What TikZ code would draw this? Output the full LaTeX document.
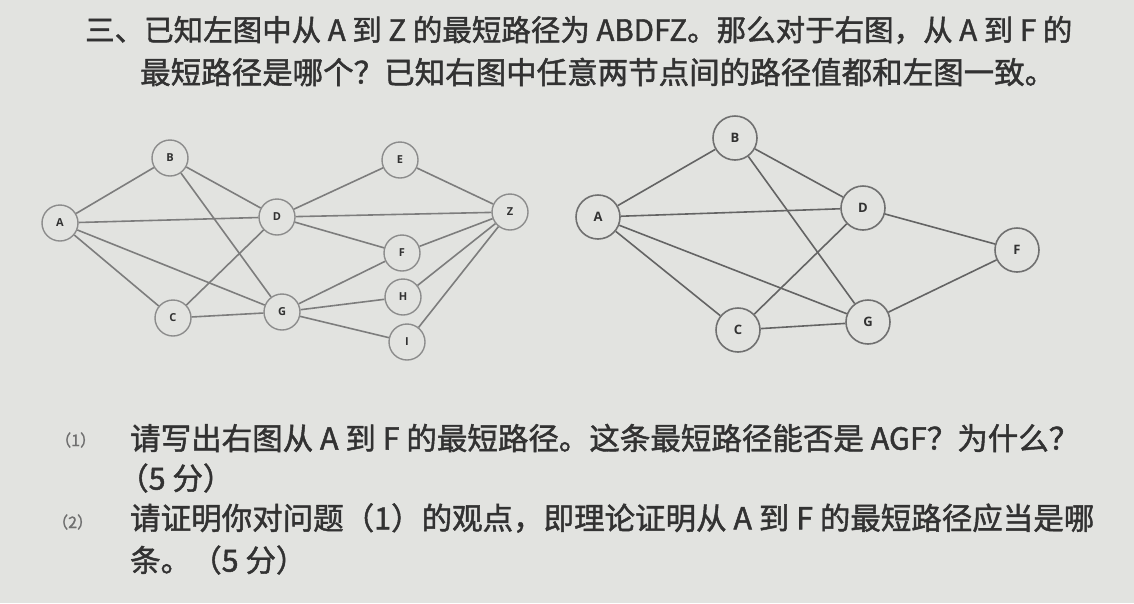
\documentclass[tikz,border=0pt]{standalone}
\usepackage{fontspec}
\setmainfont{Noto Sans CJK SC}[FakeBold=1.5,AutoFakeBold=1.5]
\newfontfamily\latinsans{Open Sans}
\definecolor{paper}{RGB}{226,227,224}
\definecolor{ink}{RGB}{50,50,50}
\definecolor{edgecol}{RGB}{125,125,125}
\definecolor{circcol}{RGB}{140,140,140}
\begin{document}
\begin{tikzpicture}[x=1pt,y=-1pt,
  vsmall/.style={circle,draw=circcol,line width=1.4pt,minimum size=36pt,inner sep=0pt,font=\latinsans\bfseries\fontsize{11}{11}\selectfont,text=ink},
  vbig/.style={circle,draw=circcol!80!black,line width=1.6pt,minimum size=44pt,inner sep=0pt,font=\latinsans\bfseries\fontsize{13}{13}\selectfont,text=ink},
  edge/.style={draw=edgecol,line width=1.6pt},
  para/.style={anchor=west,inner sep=0pt,text=ink,font=\bfseries\fontsize{30.5}{34}\selectfont}]
\fill[paper] (0,0) rectangle (1134,603);
\useasboundingbox (0,0) rectangle (1134,603);
% text
\node[para,font=\bfseries\fontsize{29.5}{34}\selectfont] (t1) at (85,30) {三、已知左图中从 A 到 Z 的最短路径为 ABDFZ。那么对于右图，从 A 到 F 的};
\node[para] (t2) at (140,72) {最短路径是哪个？已知右图中任意两节点间的路径值都和左图一致。};
\node[para,font=\fontsize{16}{20}\selectfont,text=ink!70] (q1n) at (55,440) {（1）};
\node[para] (q1) at (130,438) {请写出右图从 A 到 F 的最短路径。这条最短路径能否是 AGF？为什么？};
\node[para] (q1b) at (118,478) {（5 分）};
\node[para,font=\fontsize{16}{20}\selectfont,text=ink!70] (q2n) at (52,522) {（2）};
\node[para] (q2) at (130,518) {请证明你对问题（1）的观点，即理论证明从 A 到 F 的最短路径应当是哪};
\node[para] (q2b) at (130,560) {条。（5 分）};
% left graph
\node[vsmall] (A) at (60,223) {A};
\node[vsmall] (B) at (170,158) {B};
\node[vsmall] (C) at (173,318) {C};
\node[vsmall] (D) at (277,217) {D};
\node[vsmall] (G) at (282,312) {G};
\node[vsmall] (E) at (400,160) {E};
\node[vsmall] (F) at (402,253) {F};
\node[vsmall] (H) at (403,297) {H};
\node[vsmall] (I) at (407,342) {I};
\node[vsmall] (Z) at (510,212) {Z};
\foreach \a/\b in {A/B,A/D,A/C,A/G,B/D,B/G,C/D,C/G,D/E,D/Z,D/F,E/Z,F/Z,G/F,G/H,G/I,H/Z,I/Z}
  \draw[edge] (\a) -- (\b);
% right graph
\node[vbig] (rA) at (598,217) {A};
\node[vbig] (rB) at (735,138) {B};
\node[vbig] (rD) at (863,208) {D};
\node[vbig] (rF) at (1017,250) {F};
\node[vbig] (rC) at (738,330) {C};
\node[vbig] (rG) at (868,322) {G};
\foreach \a/\b in {rA/rB,rA/rD,rA/rG,rA/rC,rB/rD,rB/rG,rC/rD,rC/rG,rD/rF,rG/rF}
  \draw[edge,draw=edgecol!80!black] (\a) -- (\b);
\end{tikzpicture}
\end{document}
